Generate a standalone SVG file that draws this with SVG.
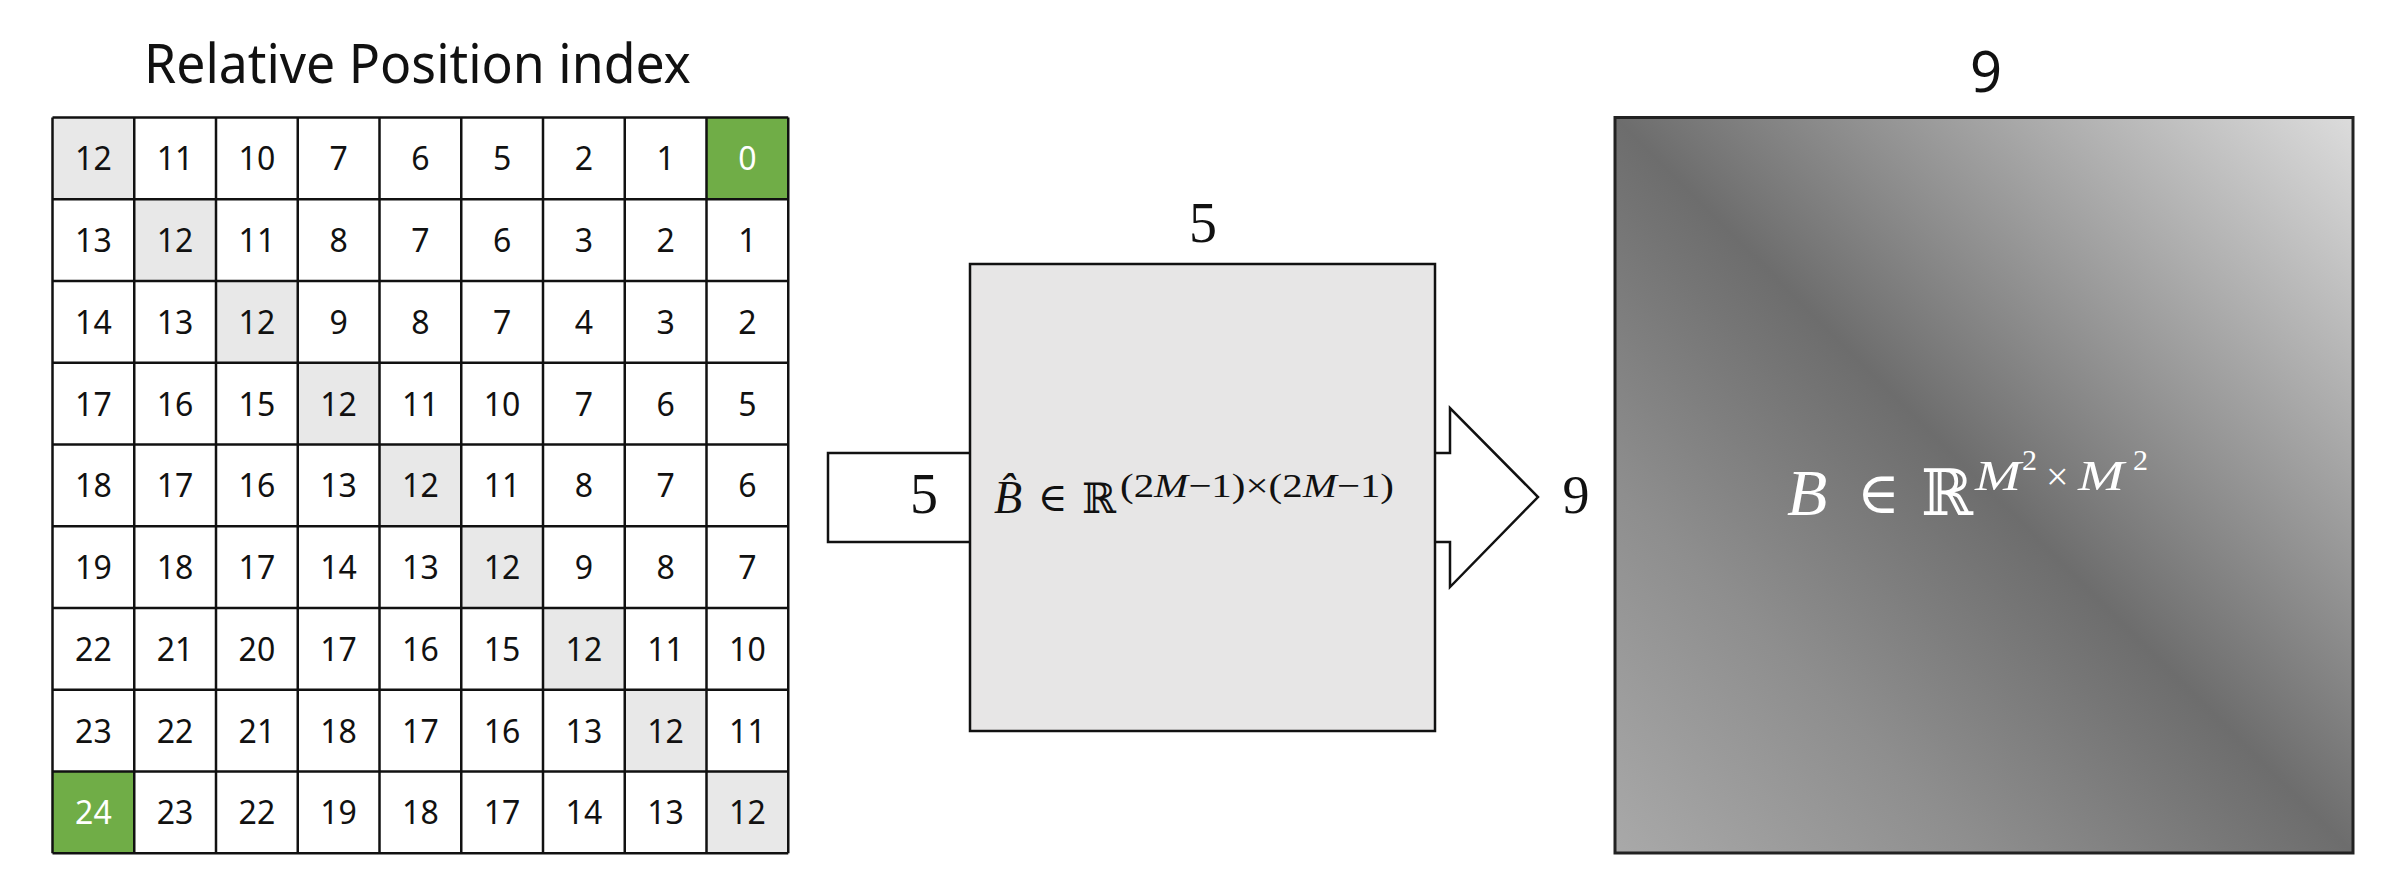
<svg xmlns="http://www.w3.org/2000/svg" width="2394" height="894" viewBox="0 0 2394 894">
<style>
.cell{fill:#ffffff;stroke:#111111;stroke-width:2.5}
.diag{fill:#e8e8e8}
.green{fill:#70ad47}
.num{font-family:"Noto Sans","Liberation Sans",sans-serif;font-size:32px;fill:#111111;text-anchor:middle}
.wnum{fill:#ffffff}
.title{font-family:"Noto Sans","Liberation Sans",sans-serif;font-size:54px;fill:#111111}
.dim{font-family:"Liberation Serif","DejaVu Serif",serif;fill:#111111;text-anchor:middle}
.math{font-family:"Liberation Serif","DejaVu Serif",serif}
.it{font-style:italic}
.shape{fill:#ffffff;stroke:#111111;stroke-width:2.5}
</style>
<defs>
<linearGradient id="bgrad" x1="0" y1="1" x2="1" y2="0">
<stop offset="0" stop-color="#a9a9a9"/>
<stop offset="0.25" stop-color="#8e8e8e"/>
<stop offset="0.5" stop-color="#6d6d6d"/>
<stop offset="0.75" stop-color="#a4a4a4"/>
<stop offset="1" stop-color="#dcdcdc"/>
</linearGradient>
</defs>
<rect width="2394" height="894" fill="#ffffff"/>

<g id="title"><text class="title" x="144" y="83" textLength="547" lengthAdjust="spacingAndGlyphs">Relative Position index</text></g>

<g id="grid">
<rect x="52.5" y="117.5" width="735.75" height="735.75" fill="#ffffff"/>
<rect class="diag" x="52.5" y="117.5" width="81.75" height="81.75"/>
<rect class="diag" x="134.25" y="199.25" width="81.75" height="81.75"/>
<rect class="diag" x="216" y="281" width="81.75" height="81.75"/>
<rect class="diag" x="297.75" y="362.75" width="81.75" height="81.75"/>
<rect class="diag" x="379.5" y="444.5" width="81.75" height="81.75"/>
<rect class="diag" x="461.25" y="526.25" width="81.75" height="81.75"/>
<rect class="diag" x="543" y="608" width="81.75" height="81.75"/>
<rect class="diag" x="624.75" y="689.75" width="81.75" height="81.75"/>
<rect class="diag" x="706.5" y="771.5" width="81.75" height="81.75"/>
<rect class="green" x="706.5" y="117.5" width="81.75" height="81.75"/>
<rect class="green" x="52.5" y="771.5" width="81.75" height="81.75"/>
<g stroke="#111111" stroke-width="2.5">
<line x1="52.5" y1="117.5" x2="52.5" y2="853.25"/>
<line x1="134.25" y1="117.5" x2="134.25" y2="853.25"/>
<line x1="216" y1="117.5" x2="216" y2="853.25"/>
<line x1="297.75" y1="117.5" x2="297.75" y2="853.25"/>
<line x1="379.5" y1="117.5" x2="379.5" y2="853.25"/>
<line x1="461.25" y1="117.5" x2="461.25" y2="853.25"/>
<line x1="543" y1="117.5" x2="543" y2="853.25"/>
<line x1="624.75" y1="117.5" x2="624.75" y2="853.25"/>
<line x1="706.5" y1="117.5" x2="706.5" y2="853.25"/>
<line x1="788.25" y1="117.5" x2="788.25" y2="853.25"/>
<line x1="52.5" y1="117.5" x2="788.25" y2="117.5"/>
<line x1="52.5" y1="199.25" x2="788.25" y2="199.25"/>
<line x1="52.5" y1="281" x2="788.25" y2="281"/>
<line x1="52.5" y1="362.75" x2="788.25" y2="362.75"/>
<line x1="52.5" y1="444.5" x2="788.25" y2="444.5"/>
<line x1="52.5" y1="526.25" x2="788.25" y2="526.25"/>
<line x1="52.5" y1="608" x2="788.25" y2="608"/>
<line x1="52.5" y1="689.75" x2="788.25" y2="689.75"/>
<line x1="52.5" y1="771.5" x2="788.25" y2="771.5"/>
<line x1="52.5" y1="853.25" x2="788.25" y2="853.25"/>
</g>
<g class="num">
<text x="93.4" y="170.4">12</text><text x="175.1" y="170.4">11</text><text x="256.9" y="170.4">10</text><text x="338.6" y="170.4">7</text><text x="420.4" y="170.4">6</text><text x="502.1" y="170.4">5</text><text x="583.9" y="170.4">2</text><text x="665.6" y="170.4">1</text><text class="wnum" x="747.4" y="170.4">0</text>
<text x="93.4" y="252.1">13</text><text x="175.1" y="252.1">12</text><text x="256.9" y="252.1">11</text><text x="338.6" y="252.1">8</text><text x="420.4" y="252.1">7</text><text x="502.1" y="252.1">6</text><text x="583.9" y="252.1">3</text><text x="665.6" y="252.1">2</text><text x="747.4" y="252.1">1</text>
<text x="93.4" y="333.9">14</text><text x="175.1" y="333.9">13</text><text x="256.9" y="333.9">12</text><text x="338.6" y="333.9">9</text><text x="420.4" y="333.9">8</text><text x="502.1" y="333.9">7</text><text x="583.9" y="333.9">4</text><text x="665.6" y="333.9">3</text><text x="747.4" y="333.9">2</text>
<text x="93.4" y="415.6">17</text><text x="175.1" y="415.6">16</text><text x="256.9" y="415.6">15</text><text x="338.6" y="415.6">12</text><text x="420.4" y="415.6">11</text><text x="502.1" y="415.6">10</text><text x="583.9" y="415.6">7</text><text x="665.6" y="415.6">6</text><text x="747.4" y="415.6">5</text>
<text x="93.4" y="497.4">18</text><text x="175.1" y="497.4">17</text><text x="256.9" y="497.4">16</text><text x="338.6" y="497.4">13</text><text x="420.4" y="497.4">12</text><text x="502.1" y="497.4">11</text><text x="583.9" y="497.4">8</text><text x="665.6" y="497.4">7</text><text x="747.4" y="497.4">6</text>
<text x="93.4" y="579.1">19</text><text x="175.1" y="579.1">18</text><text x="256.9" y="579.1">17</text><text x="338.6" y="579.1">14</text><text x="420.4" y="579.1">13</text><text x="502.1" y="579.1">12</text><text x="583.9" y="579.1">9</text><text x="665.6" y="579.1">8</text><text x="747.4" y="579.1">7</text>
<text x="93.4" y="660.9">22</text><text x="175.1" y="660.9">21</text><text x="256.9" y="660.9">20</text><text x="338.6" y="660.9">17</text><text x="420.4" y="660.9">16</text><text x="502.1" y="660.9">15</text><text x="583.9" y="660.9">12</text><text x="665.6" y="660.9">11</text><text x="747.4" y="660.9">10</text>
<text x="93.4" y="742.6">23</text><text x="175.1" y="742.6">22</text><text x="256.9" y="742.6">21</text><text x="338.6" y="742.6">18</text><text x="420.4" y="742.6">17</text><text x="502.1" y="742.6">16</text><text x="583.9" y="742.6">13</text><text x="665.6" y="742.6">12</text><text x="747.4" y="742.6">11</text>
<text class="wnum" x="93.4" y="824.4">24</text><text x="175.1" y="824.4">23</text><text x="256.9" y="824.4">22</text><text x="338.6" y="824.4">19</text><text x="420.4" y="824.4">18</text><text x="502.1" y="824.4">17</text><text x="583.9" y="824.4">14</text><text x="665.6" y="824.4">13</text><text x="747.4" y="824.4">12</text>
</g>
</g>

<g id="connectors">
<rect class="shape" x="828" y="453" width="160" height="89"/>
<polygon class="shape" points="1415,453 1450,453 1450,408 1538,497 1450,587 1450,542 1415,542"/>
</g>

<g id="bhat-box">
<rect x="970" y="264" width="465" height="467" fill="#e7e6e6" stroke="#111111" stroke-width="2.5"/>
<text class="dim" x="1203" y="242" font-size="56">5</text>
<text class="dim" x="924" y="513" font-size="56">5</text>
<text class="math it" x="994" y="513" font-size="46" fill="#111111">B&#x302;</text>
<text class="math" x="1038" y="511" font-size="40" fill="#111111">∈</text>
<text x="1082" y="513" font-size="42" fill="#111111" font-family="DejaVu Serif,serif" textLength="34" lengthAdjust="spacingAndGlyphs">ℝ</text>
<text class="math" x="1120" y="497" font-size="34" fill="#111111" textLength="274" lengthAdjust="spacingAndGlyphs">(2<tspan class="it">M</tspan>−1)×(2<tspan class="it">M</tspan>−1)</text>
</g>

<g id="out-label"><text class="dim" x="1576" y="513" font-size="54">9</text></g>

<g id="b-matrix">
<rect x="1615" y="117.5" width="738" height="735.5" fill="url(#bgrad)" stroke="#222222" stroke-width="3"/>
<text x="1986" y="92" font-size="56" fill="#111111" text-anchor="middle" font-family="Noto Sans,Liberation Sans,sans-serif">9</text>
<text class="math it" x="1787" y="515" font-size="66" fill="#ffffff">B</text>
<text class="math" x="1857" y="513" font-size="58" fill="#ffffff">∈</text>
<text x="1921" y="515" font-size="64" fill="#ffffff" font-family="DejaVu Serif,serif" textLength="52" lengthAdjust="spacingAndGlyphs">ℝ</text>
<text class="math it" x="1975" y="490" font-size="42" fill="#ffffff" textLength="46" lengthAdjust="spacingAndGlyphs">M</text>
<text class="math" x="2022" y="470" font-size="30" fill="#ffffff">2</text>
<text class="math" x="2046" y="490" font-size="40" fill="#ffffff">×</text>
<text class="math it" x="2078" y="490" font-size="42" fill="#ffffff" textLength="46" lengthAdjust="spacingAndGlyphs">M</text>
<text class="math" x="2133" y="470" font-size="30" fill="#ffffff">2</text>
</g>
</svg>
